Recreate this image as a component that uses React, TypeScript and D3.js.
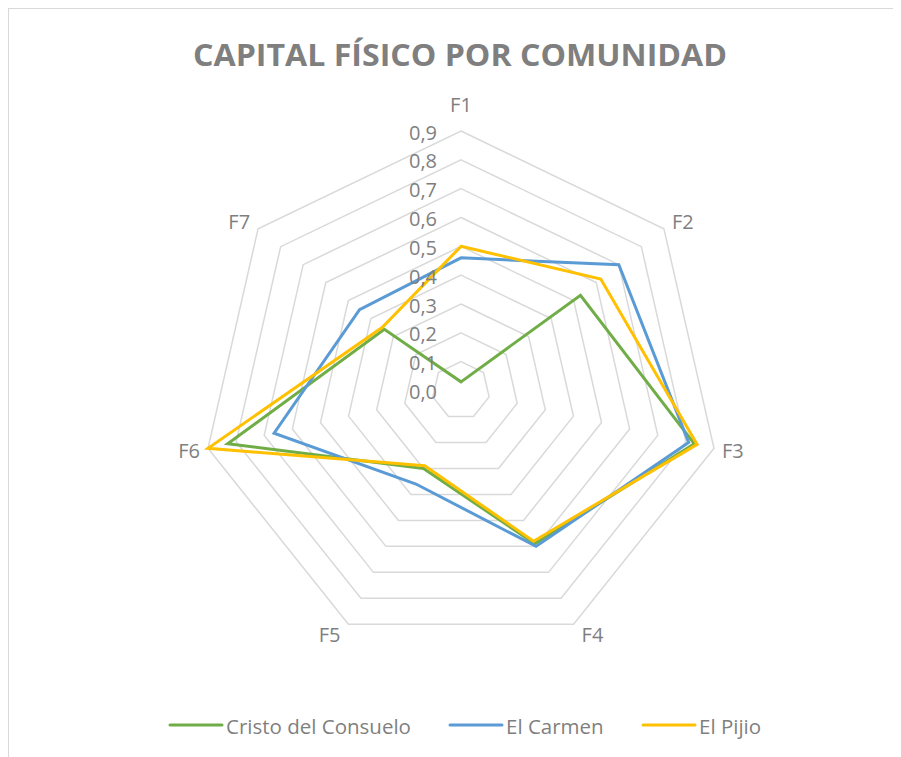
import React from "react";
import * as d3 from "d3";

const categories = ["F1", "F2", "F3", "F4", "F5", "F6", "F7"];
const seriesNames = ["Cristo del Consuelo", "El Carmen", "El Pijio"];
const cristo = [0.03, 0.53, 0.83, 0.59, 0.30, 0.83, 0.34];
const carmen = [0.46, 0.70, 0.81, 0.60, 0.36, 0.665, 0.45];
const pijio = [0.50, 0.62, 0.84, 0.58, 0.29, 0.90, 0.35];
const tickValues = [0, 0.1, 0.2, 0.3, 0.4, 0.5, 0.6, 0.7, 0.8, 0.9];
const tickLabels = ["0,0", "0,1", "0,2", "0,3", "0,4", "0,5", "0,6", "0,7", "0,8", "0,9"];
const colors = ["#70ad47", "#5b9bd5", "#ffc000"];
const title = "CAPITAL FÍSICO POR COMUNIDAD";

const W = 893;
const H = 749;
const cx = 453;
const cy = 382.5;
const font = "'Open Sans', 'Noto Sans', sans-serif";

export default function App() {
  const r = d3.scaleLinear().domain([0, 0.9]).range([0, 259.5]);
  const angle = d3
    .scalePoint<string>()
    .domain(categories)
    .range([0, (2 * Math.PI * (categories.length - 1)) / categories.length]);
  const pt = (cat: string, v: number): [number, number] => {
    const a = angle(cat)!;
    return [cx + r(v) * Math.sin(a), cy - r(v) * Math.cos(a)];
  };
  const line = d3.line<[number, number]>().curve(d3.curveLinearClosed);
  const allSeries = [cristo, carmen, pijio];

  return (
    <svg width={W} height={H} style={{ display: "block", overflow: "hidden" }}>
      <rect x={0.5} y={0.5} width={W + 20} height={H + 20} fill="#fff" stroke="#d9d9d9" strokeWidth={1} />
      <text
        x={452}
        y={58}
        textAnchor="middle"
        fontFamily={font}
        fontWeight="bold"
        fontSize={31}
        fill="#7f7f7f"
        textLength={534}
        lengthAdjust="spacingAndGlyphs"
      >
        {title}
      </text>
      {tickValues.slice(1).map((t) => (
        <path
          key={t}
          d={line(categories.map((c) => pt(c, t)))!}
          fill="none"
          stroke="#d9d9d9"
          strokeWidth={1.5}
        />
      ))}
      {categories.map((c) => {
        const [vx, vy] = pt(c, 0.9);
        const a = angle(c)!;
        const s = Math.sin(a);
        if (Math.abs(s) < 0.01) {
          return (
            <text key={c} x={vx} y={vy - 27} textAnchor="middle" dominantBaseline="central" fontFamily={font} fontSize={20} fill="#7f7f7f">
              {c}
            </text>
          );
        }
        return (
          <text
            key={c}
            x={vx + (s > 0 ? 8 : -8)}
            y={vy - Math.cos(a) * 11}
            textAnchor={s > 0 ? "start" : "end"}
            dominantBaseline="central"
            fontFamily={font}
            fontSize={20}
            fill="#7f7f7f"
          >
            {c}
          </text>
        );
      })}
      {allSeries.map((vals, i) => (
        <path
          key={seriesNames[i]}
          d={line(categories.map((c, j) => pt(c, vals[j])))!}
          fill="none"
          stroke={colors[i]}
          strokeWidth={3}
          strokeLinejoin="miter"
        />
      ))}
      {tickValues.map((t, i) => (
        <text
          key={t}
          x={429}
          y={cy - r(t) + 1}
          textAnchor="end"
          dominantBaseline="central"
          fontFamily={font}
          fontSize={20}
          fill="#7f7f7f"
        >
          {tickLabels[i]}
        </text>
      ))}
      {seriesNames.map((n, i) => {
        const xs = [162, 442, 635];
        return (
          <g key={n} transform={`translate(${xs[i]},717)`}>
            <line x1={0} x2={52} y1={0} y2={0} stroke={colors[i]} strokeWidth={3} strokeLinecap="round" />
            <text x={56} y={1} dominantBaseline="central" fontFamily={font} fontSize={20.5} fill="#7f7f7f">
              {n}
            </text>
          </g>
        );
      })}
    </svg>
  );
}
